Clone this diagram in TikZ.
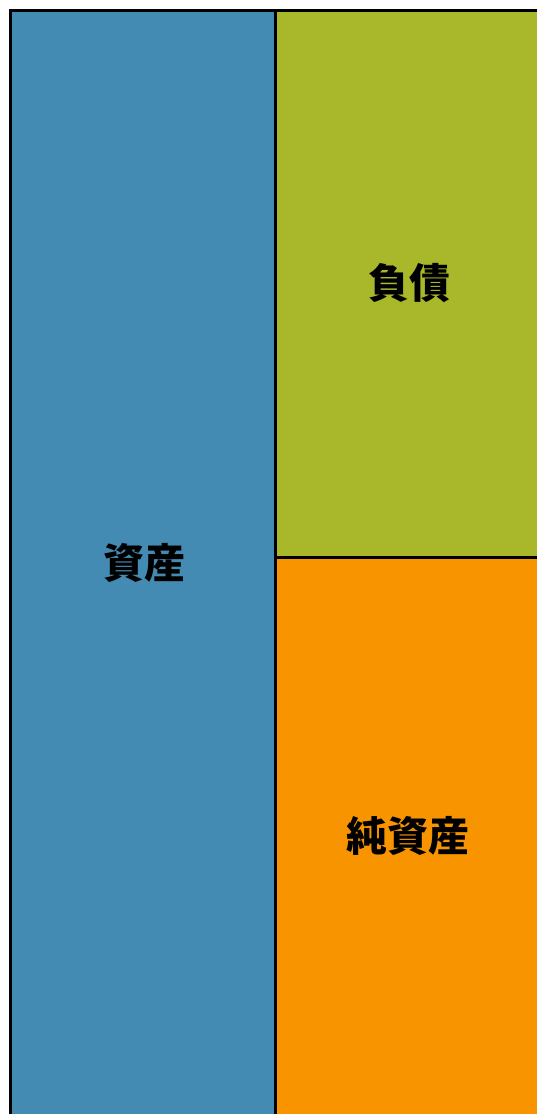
\documentclass[tikz,border=0pt]{standalone}
\usepackage{fontspec}
\newfontfamily\cjk{Noto Sans CJK JP}
\definecolor{assetblue}{RGB}{67,139,179}
\definecolor{liabgreen}{RGB}{168,184,42}
\definecolor{equityorange}{RGB}{247,148,0}

\begin{document}
\begin{tikzpicture}[x=1pt,y=1pt,
  box/.style={draw=black,line width=3pt},
  lbl/.style={font=\cjk\bfseries\fontsize{41}{41}\selectfont,inner sep=0pt}]
\useasboundingbox (0,0) rectangle (537,1114);
\clip (0,0) rectangle (537,1114);
\filldraw[box,fill=assetblue] (10.5,-10) rectangle (275.5,1103.5);
\filldraw[box,fill=liabgreen] (275.5,556) rectangle (550,1103.5);
\filldraw[box,fill=equityorange] (275.5,-10) rectangle (550,556);

\node[lbl] (asset) at (144,551) {資産};
\node[lbl] (liab) at (409,831) {負債};
\node[lbl] (equity) at (408,278) {純資産};
\end{tikzpicture}
\end{document}
